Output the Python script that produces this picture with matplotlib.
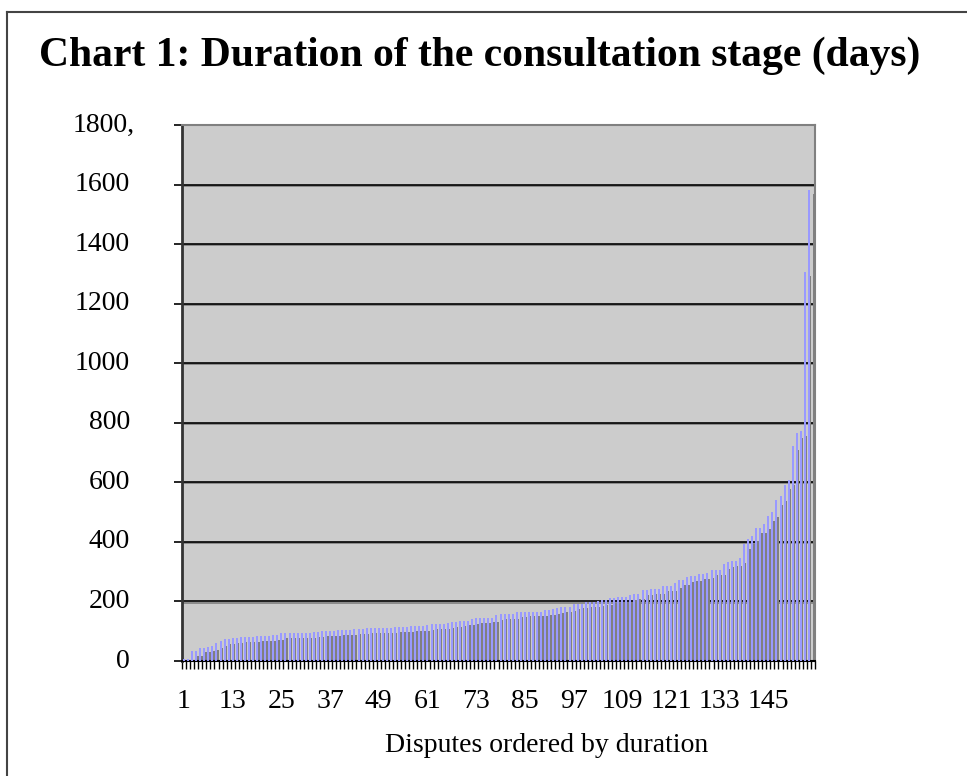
import numpy as np
import matplotlib
matplotlib.use("Agg")
import matplotlib.pyplot as plt
import matplotlib.patheffects as pe
import matplotlib.transforms as mtransforms
from matplotlib.lines import Line2D

# days of consultation for each dispute, sorted ascending
durations = [
    8, 8, 33, 33, 45, 45, 48, 52, 59, 66,
    73, 73, 76, 76, 80, 80, 80, 80, 83, 83,
    83, 83, 86, 86, 93, 93, 93, 93, 93, 93,
    93, 93, 96, 96, 100, 100, 100, 100, 103, 103,
    103, 103, 106, 106, 106, 110, 110, 110, 110, 110,
    110, 110, 113, 113, 113, 113, 116, 116, 116, 116,
    120, 123, 123, 123, 123, 126, 130, 130, 133, 136,
    136, 140, 143, 143, 143, 146, 146, 153, 157, 157,
    157, 157, 163, 163, 166, 166, 166, 166, 166, 170,
    170, 173, 177, 180, 180, 183, 190, 193, 193, 197,
    197, 197, 200, 204, 204, 211, 211, 214, 214, 214,
    221, 224, 224, 237, 237, 241, 241, 241, 251, 251,
    251, 261, 271, 271, 281, 285, 285, 292, 292, 295,
    305, 305, 305, 325, 331, 335, 335, 345, 392, 409,
    419, 446, 446, 459, 486, 500, 540, 553, 591, 607,
    722, 765, 772, 1307, 1583,
]
disputes = np.arange(1, len(durations) + 1)
x_labels = [1, 13, 25, 37, 49, 61, 73, 85, 97, 109, 121, 133, 145]
y_ticks = [0, 200, 400, 600, 800, 1000, 1200, 1400, 1600, 1800]
y_labels = ["0", "200", "400", "600", "800", "1000", "1200", "1400", "1600", "1800,"]

title = "Chart 1: Duration of the consultation stage (days)"
xlabel = "Disputes ordered by duration"

plt.rcParams['font.family'] = ['Liberation Serif', 'DejaVu Serif']

W, H = 967, 776
fig = plt.figure(figsize=(W / 100, H / 100), dpi=100)

# outer frame (only left and top edges fall inside the picture)
fig.add_artist(Line2D([7 / W, 7 / W], [0, 1 - 12 / H], transform=fig.transFigure,
                      color='#444444', lw=1.5))
fig.add_artist(Line2D([7 / W, 1], [1 - 12 / H, 1 - 12 / H], transform=fig.transFigure,
                      color='#444444', lw=1.5))

ax = fig.add_axes([182 / W, 1 - 661 / H, 633 / W, 536 / H])
ax.set_facecolor('#cccccc')

# gridlines with a small shadow
for v in y_ticks[1:-1]:
    ax.axhline(v, color='black', lw=1.2, zorder=1,
               path_effects=[pe.SimpleLineShadow(offset=(0.6, -0.8), shadow_color='#808080', alpha=1),
                             pe.Normal()])

# bar shadows (offset right and down) then the bars
ax.bar(disputes + 1.36, durations, width=0.49, bottom=-15, color='#808080', zorder=2)
ax.bar(disputes, durations, width=0.49, color='#9999ff', zorder=3)

ax.set_xlim(0.5, 156.5)
ax.set_ylim(0, 1800)

ax.set_xticks(x_labels)
ax.set_xticklabels([str(v) for v in x_labels], fontsize=20)
ax.set_xticks(np.arange(0.5, 157, 1), minor=True)
ax.tick_params(axis='x', which='major', length=0, pad=20)
ax.tick_params(axis='x', which='minor', length=6, width=1, color='black', direction='out')

ax.set_yticks(y_ticks)
ax.set_yticklabels([])
ax.tick_params(axis='y', length=6, width=1.2, color='black', direction='out')
ylab_tf = mtransforms.blended_transform_factory(ax.transAxes, ax.transData)
for v, s in zip(y_ticks, y_labels):
    tf = ylab_tf + mtransforms.ScaledTranslation(-52 / 100 + (0.05 if s.endswith(',') else 0), 0,
                                                 fig.dpi_scale_trans)
    ax.text(0, v, s, transform=tf, ha='right', va='center', fontsize=20)

for side in ['top', 'right']:
    ax.spines[side].set_color('#808080')
    ax.spines[side].set_linewidth(1.5)
ax.spines['left'].set_color('#333333')
ax.spines['left'].set_linewidth(2)
ax.spines['bottom'].set_color('black')
ax.spines['bottom'].set_linewidth(1.5)

fig.text(480 / W, 1 - 56 / H, title, ha='center', va='center', fontsize=30, fontweight='bold')
fig.text(547 / W, 1 - 745 / H, xlabel, ha='center', va='center', fontsize=20)

fig.savefig('out.png', dpi=100)
